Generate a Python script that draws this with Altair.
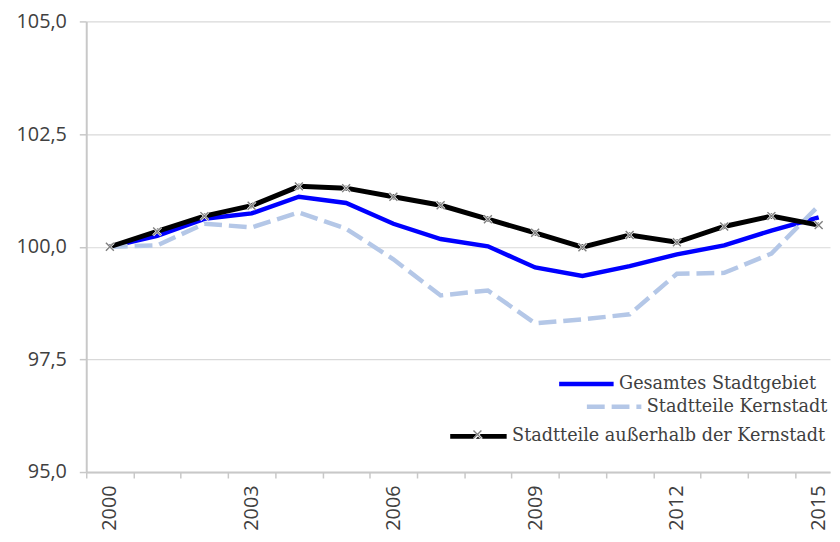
import altair as alt
import pandas as pd

years = list(range(2000, 2016))
gesamt = [100.0, 100.24, 100.62, 100.74, 101.11, 100.97, 100.51, 100.17, 100.01, 99.54, 99.35, 99.57, 99.83, 100.03, 100.36, 100.65]
kern = [100.0, 100.03, 100.51, 100.43, 100.76, 100.40, 99.72, 98.92, 99.03, 98.30, 98.39, 98.50, 99.40, 99.42, 99.85, 100.91]
ausser = [100.0, 100.34, 100.68, 100.91, 101.34, 101.30, 101.11, 100.92, 100.61, 100.31, 99.99, 100.26, 100.10, 100.45, 100.68, 100.48]
names = ["Gesamtes Stadtgebiet", "Stadtteile Kernstadt", "Stadtteile außerhalb der Kernstadt"]
y_ticks = [95.0, 97.5, 100.0, 102.5, 105.0]

rows = []
for name, vals in zip(names, [gesamt, kern, ausser]):
    for yr, v in zip(years, vals):
        rows.append({"Jahr": yr, "Wert": v, "Reihe": name})
df = pd.DataFrame(rows)

AXIS_FONT = "Open Sans"
LEG_FONT = "DejaVu Serif"
TXT = "#404040"
XPATH = "M-1,-1L1,1M-1,1L1,-1"

x_enc = alt.X(
    "Jahr:Q",
    scale=alt.Scale(domain=[1999.5, 2015.24], nice=False, zero=False),
    axis=alt.Axis(
        values=[y - 0.5 for y in years],
        labelExpr="((datum.value + 0.5 - 2000) % 3 == 0) ? format(datum.value + 0.5, 'd') : ''",
        labelOffset=23.9,
        labelAngle=270,
        labelOverlap=False,
        labelFlush=False,
        labelFont=AXIS_FONT,
        labelFontSize=20,
        labelColor=TXT,
        labelPadding=7,
        tickSize=6,
        tickColor="#c8c8c8",
        tickWidth=1.5,
        domainColor="#c8c8c8",
        domainWidth=2,
        grid=False,
        title=None,
    ),
)
y_enc = alt.Y(
    "Wert:Q",
    scale=alt.Scale(domain=[95, 105], nice=False, zero=False),
    axis=alt.Axis(
        values=y_ticks,
        labelExpr="replace(format(datum.value, '.1f'), '.', ',')",
        labelFont=AXIS_FONT,
        labelFontSize=20,
        labelColor=TXT,
        labelPadding=13,
        tickSize=7,
        tickColor="#c8c8c8",
        tickWidth=1.5,
        domainColor="#c8c8c8",
        domainWidth=2,
        grid=True,
        gridColor="#d9d9d9",
        gridWidth=1.2,
        title=None,
    ),
)

def line_legend(x, yc, dash=None, width=4.5, length=55):
    kw = dict(
        orient="none",
        legendX=x,
        legendY=yc,
        title=None,
        symbolType="stroke",
        symbolSize=length * length,
        symbolStrokeWidth=width,
        labelFont=LEG_FONT,
        labelFontSize=17.8,
        labelColor=TXT,
        labelOffset=3,
        labelLimit=0,
        padding=0,
    )
    if dash:
        kw["symbolDash"] = dash
    return alt.Legend(**kw)

base = alt.Chart(df)

blue = base.transform_filter(alt.datum.Reihe == names[0]).mark_line(strokeWidth=4.5).encode(
    x=x_enc, y=y_enc,
    color=alt.Color("Reihe:N", scale=alt.Scale(domain=[names[0]], range=["#0000FF"]),
                    legend=line_legend(475, 336)),
)
dashed = base.transform_filter(alt.datum.Reihe == names[1]).mark_line(strokeWidth=4.5, strokeDash=[18, 7]).encode(
    x=x_enc, y=y_enc,
    color=alt.Color("Reihe:N", scale=alt.Scale(domain=[names[1]], range=["#B4C7E7"]),
                    legend=line_legend(503, 359, dash=[18, 7])),
)
black = base.transform_filter(alt.datum.Reihe == names[2]).mark_line(strokeWidth=5).encode(
    x=x_enc, y=y_enc,
    color=alt.Color("Reihe:N", scale=alt.Scale(domain=[names[2]], range=["#000000"]),
                    legend=line_legend(365, 388, width=5, length=57)),
)
white_x = base.transform_filter(alt.datum.Reihe == names[2]).mark_point(
    filled=False, stroke="white", strokeWidth=2.5, size=64, opacity=1
).encode(
    x=x_enc, y=y_enc,
    shape=alt.Shape("Reihe:N", scale=alt.Scale(domain=[names[2]], range=[XPATH]),
                    legend=alt.Legend(orient="none", legendX=390, legendY=412, title=None,
                                      symbolSize=64, symbolStrokeColor="white",
                                      symbolFillColor="transparent", symbolStrokeWidth=2.5,
                                      labelExpr="''", padding=0)),
)
gray_x = base.transform_filter(alt.datum.Reihe == names[2]).mark_point(
    filled=False, stroke="#7f7f7f", strokeWidth=1.4, size=64, opacity=1
).encode(
    x=x_enc, y=y_enc,
    shape=alt.Shape("Reihe:N", scale=alt.Scale(domain=[names[2]], range=[XPATH]),
                    legend=alt.Legend(orient="none", legendX=390, legendY=412, title=None,
                                      symbolSize=64, symbolStrokeColor="#7f7f7f",
                                      symbolFillColor="transparent", symbolStrokeWidth=1.4,
                                      labelExpr="''", padding=0)),
)

chart = alt.layer(blue, dashed, black, white_x, gray_x).resolve_scale(
    color="independent", shape="independent"
).properties(
    width=751,
    height=455,
    autosize=alt.AutoSizeParams(type="none"),
    padding={"left": 79, "top": 11, "right": 2, "bottom": 60},
    background="white",
).configure_view(stroke=None)

chart.save("out.html", embed_options={"renderer": "svg", "actions": False})
